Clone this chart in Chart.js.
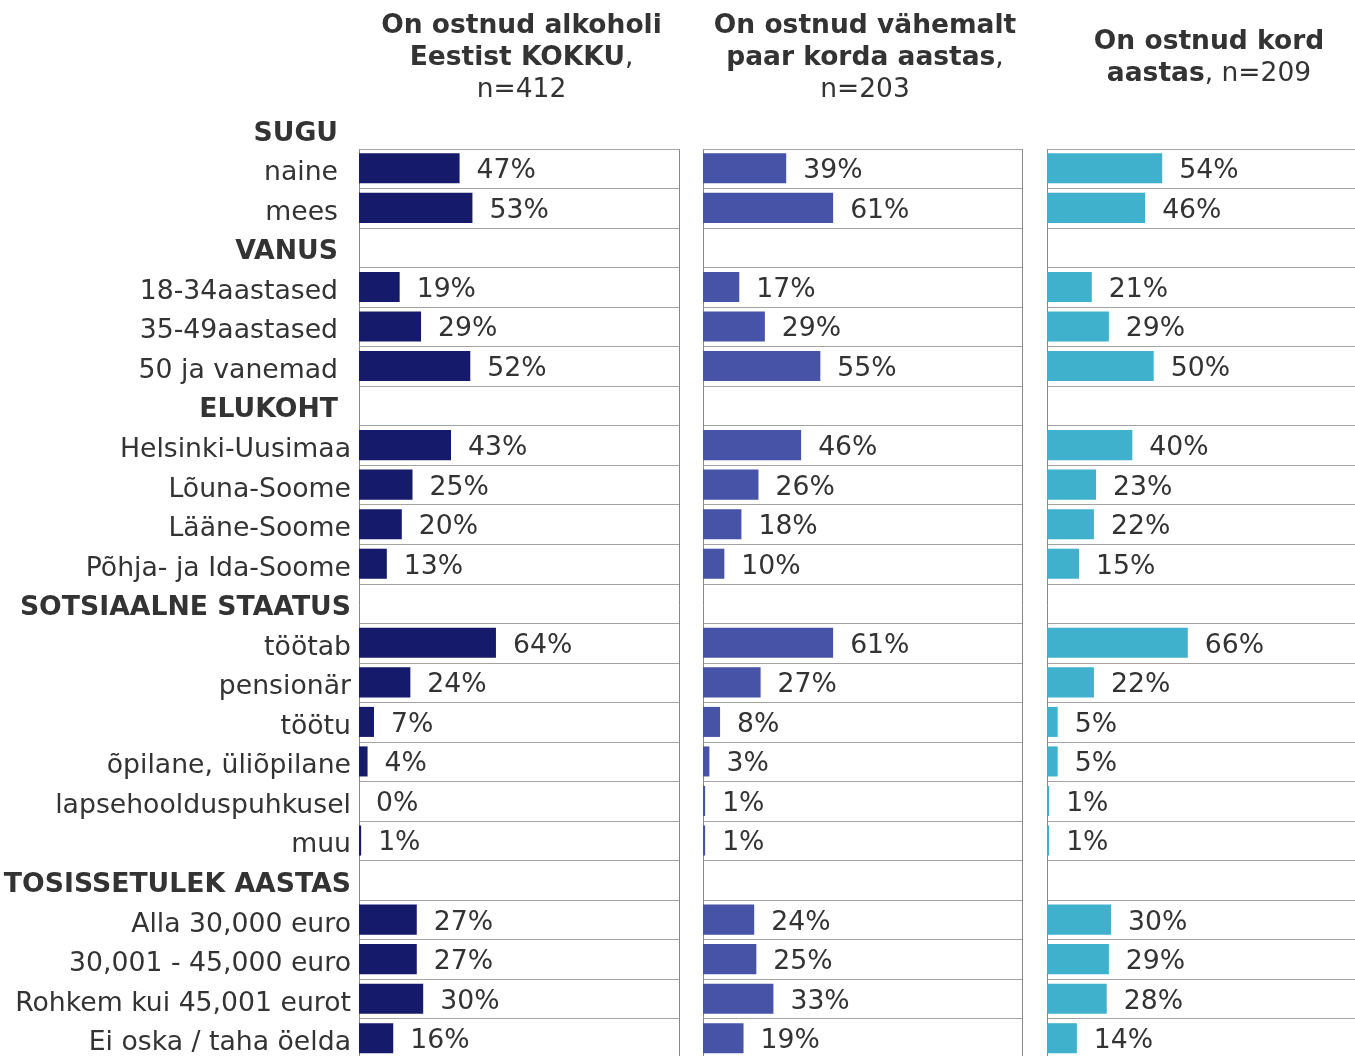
<!DOCTYPE html>
<html>
<head>
<meta charset="utf-8">
<script src="https://cdn.jsdelivr.net/npm/chart.js@4.4.0/dist/chart.umd.min.js"></script>
<style>
  html, body { margin: 0; padding: 0; background: #fff; overflow: hidden; }
  .wrap { position: relative; width: 1355px; height: 1056px; overflow: hidden; }
  canvas { position: absolute; top: 0; }
  #c1 { left: 0; }
  #c2 { left: 703px; }
  #c3 { left: 1047px; }
</style>
</head>
<body>
<div class="wrap">
  <canvas id="c1" width="681" height="1060"></canvas>
  <canvas id="c2" width="321" height="1060"></canvas>
  <canvas id="c3" width="321" height="1060"></canvas>
</div>
<script>
const categories = [
  'SUGU', 'naine', 'mees',
  'VANUS', '18-34aastased', '35-49aastased', '50 ja vanemad',
  'ELUKOHT', 'Helsinki-Uusimaa', 'Lõuna-Soome', 'Lääne-Soome', 'Põhja- ja Ida-Soome',
  'SOTSIAALNE STAATUS', 'töötab', 'pensionär', 'töötu', 'õpilane, üliõpilane', 'lapsehoolduspuhkusel', 'muu',
  'TOSISSETULEK AASTAS', 'Alla 30,000 euro', '30,001 - 45,000 euro', 'Rohkem kui 45,001 eurot', 'Ei oska / taha öelda'
];
const groupHeaders = ['SUGU', 'VANUS', 'ELUKOHT', 'SOTSIAALNE STAATUS', 'TOSISSETULEK AASTAS'];

// null = group header row
const kokku = [null, 47, 53, null, 19, 29, 52, null, 43, 25, 20, 13, null, 64, 24, 7, 4, 0, 1, null, 27, 27, 30, 16];
const paarKorda = [null, 39, 61, null, 17, 29, 55, null, 46, 26, 18, 10, null, 61, 27, 8, 3, 1, 1, null, 24, 25, 33, 19];
const kordAastas = [null, 54, 46, null, 21, 29, 50, null, 40, 23, 22, 15, null, 66, 22, 5, 5, 1, 1, null, 30, 29, 28, 14];

// title lines: [text, bold] segments
const title1 = [
  [['On ostnud alkoholi', true]],
  [['Eestist KOKKU', true], [',', false]],
  [['n=412', false]]
];
const title2 = [
  [['On ostnud vähemalt', true]],
  [['paar korda aastas', true], [',', false]],
  [['n=203', false]]
];
const title3 = [
  [['On ostnud kord', true]],
  [['aastas', true], [', n=209', false]]
];

const FONT = '"DejaVu Sans", Verdana, sans-serif';
const TXT = '#333333';

const panelPlugin = {
  id: 'panel',
  beforeDatasetsDraw(chart) {
    const ctx = chart.ctx, area = chart.chartArea, y = chart.scales.y;
    const step = y.getPixelForValue(1) - y.getPixelForValue(0);
    const top = Math.round(y.getPixelForValue(0) + step / 2) + 0.5;
    ctx.save();
    ctx.strokeStyle = '#a3a3a3';
    ctx.lineWidth = 1;
    ctx.beginPath();
    for (let i = 1; i < categories.length; i++) {
      const yy = Math.round(y.getPixelForValue(i) - step / 2) + 0.5;
      ctx.moveTo(area.left, yy);
      ctx.lineTo(area.right, yy);
    }
    ctx.stroke();
    ctx.strokeStyle = '#888888';
    ctx.beginPath();
    const l = Math.round(area.left) + 0.5, r = Math.round(area.right) - 0.5;
    ctx.moveTo(l, top); ctx.lineTo(l, area.bottom + 5);
    ctx.moveTo(r, top); ctx.lineTo(r, area.bottom + 5);
    ctx.stroke();
    ctx.restore();
  },
  afterDatasetsDraw(chart, args, opts) {
    const ctx = chart.ctx, area = chart.chartArea, y = chart.scales.y;
    const meta = chart.getDatasetMeta(0);
    const values = chart.data.datasets[0].data;
    ctx.save();
    ctx.fillStyle = TXT;
    ctx.textBaseline = 'middle';
    // value labels
    ctx.font = '26.7px ' + FONT;
    ctx.textAlign = 'left';
    meta.data.forEach((bar, i) => {
      const v = values[i];
      if (v === null) return;
      ctx.fillText(v + '%', bar.x + 17, bar.y + 3);
    });
    // category labels
    if (opts.labels) {
      ctx.textAlign = 'right';
      categories.forEach((c, i) => {
        const bold = groupHeaders.includes(c);
        ctx.font = (bold ? 'bold ' : '') + '26.7px ' + FONT;
        const gap = i <= 7 ? 21 : 8;
        ctx.fillText(c, area.left - gap, y.getPixelForValue(i) + 5);
      });
    }
    // title
    const cx = (area.left + area.right) / 2 + 2;
    const lines = opts.title;
    const lh = 32;
    const mid = area.top - 51;
    ctx.textAlign = 'left';
    const f = b => (b ? 'bold ' : '') + '26.5px ' + FONT;
    lines.forEach((segs, li) => {
      const yy = mid + (li - (lines.length - 1) / 2) * lh;
      let w = 0;
      segs.forEach(([t, b]) => { ctx.font = f(b); w += ctx.measureText(t).width; });
      let xx = cx - w / 2;
      segs.forEach(([t, b]) => {
        ctx.font = f(b);
        ctx.fillText(t, xx, yy);
        xx += ctx.measureText(t).width;
      });
    });
    ctx.restore();
  }
};

function makePanel(id, values, color, title, labels, padLeft) {
  return new Chart(document.getElementById(id), {
    type: 'bar',
    data: {
      labels: categories,
      datasets: [{
        data: values,
        backgroundColor: color,
        borderWidth: 0,
        barPercentage: 0.76,
        categoryPercentage: 1
      }]
    },
    options: {
      indexAxis: 'y',
      responsive: false,
      animation: false,
      layout: { padding: { left: padLeft, right: 1, top: 109, bottom: 2 } },
      scales: {
        x: { display: false, min: 0, max: 150 },
        y: { display: false }
      },
      plugins: {
        legend: { display: false },
        tooltip: { enabled: false },
        panel: { title: title, labels: labels }
      }
    },
    plugins: [panelPlugin]
  });
}

makePanel('c1', kokku, '#151b6a', title1, true, 359);
makePanel('c2', paarKorda, '#4653a6', title2, false, 0);
makePanel('c3', kordAastas, '#3fb1cd', title3, false, 0);
</script>
</body>
</html>
